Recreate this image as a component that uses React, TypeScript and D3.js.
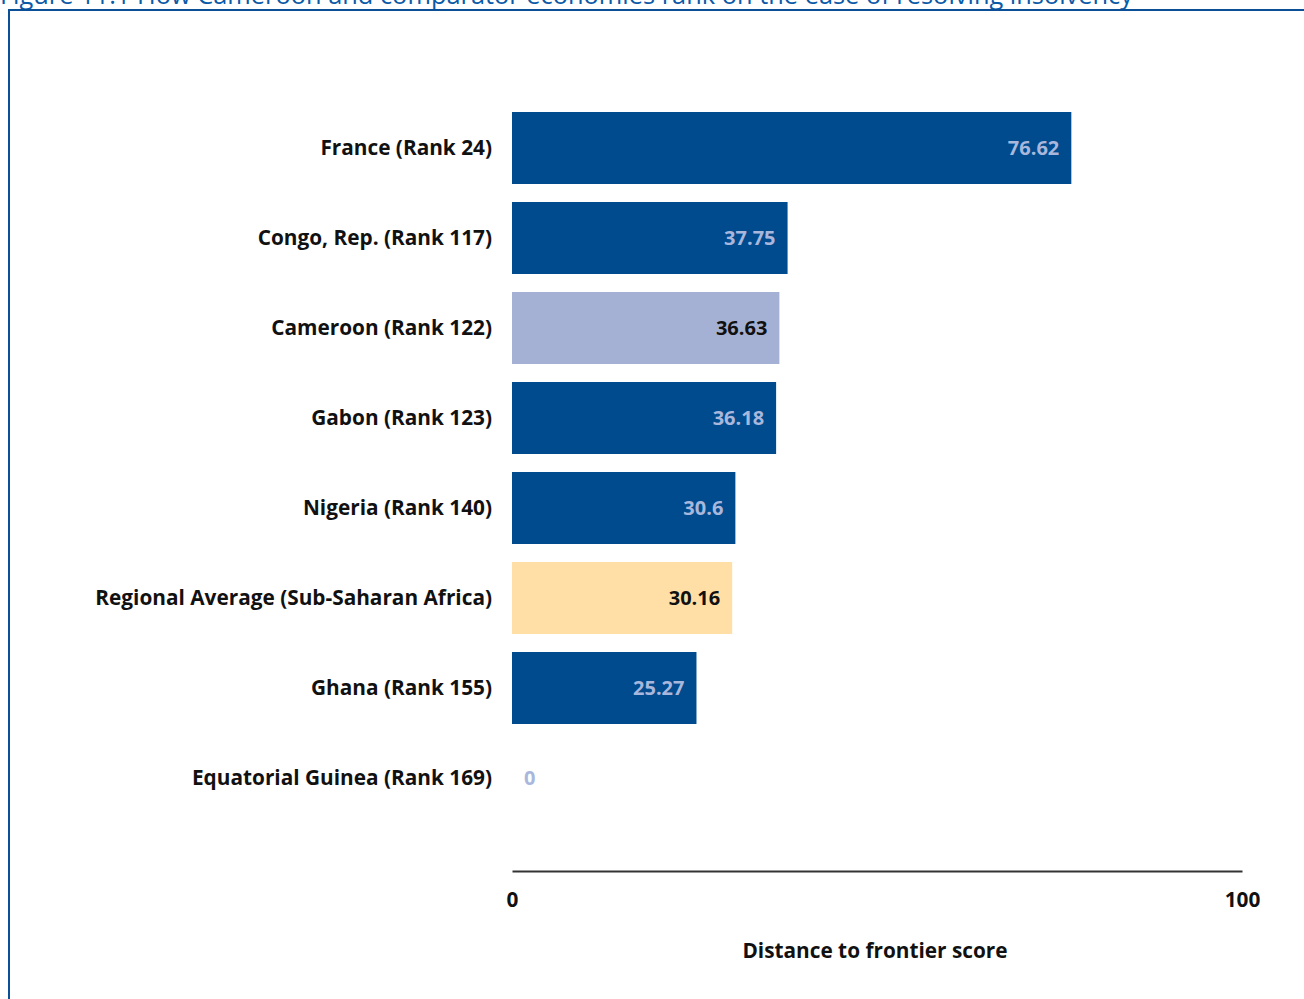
import * as d3 from 'd3';
import React, { useEffect, useRef } from 'react';

const categories = [
  'France (Rank 24)',
  'Congo, Rep. (Rank 117)',
  'Cameroon (Rank 122)',
  'Gabon (Rank 123)',
  'Nigeria (Rank 140)',
  'Regional Average (Sub-Saharan Africa)',
  'Ghana (Rank 155)',
  'Equatorial Guinea (Rank 169)',
];
const scores = [76.62, 37.75, 36.63, 36.18, 30.6, 30.16, 25.27, 0];
const kinds = ['other', 'other', 'focus', 'other', 'other', 'region', 'other', 'other'];
const xTicks = [0, 100];

const fill: Record<string, string> = { other: '#004b8d', focus: '#a5b1d4', region: '#ffdfa6' };
const labelFill: Record<string, string> = { other: '#a9b7dc', focus: '#111111', region: '#111111' };

const App: React.FC = () => {
  const svgRef = useRef<SVGSVGElement | null>(null);

  useEffect(() => {
    if (!svgRef.current) return;
    const W = 1304;
    const H = 999;
    const svg = d3.select(svgRef.current);
    svg.selectAll('*').remove();
    svg.attr('width', W).attr('height', H).attr('viewBox', `0 0 ${W} ${H}`);

    const font = '"Open Sans", sans-serif';
    const fs = '20.8px';

    // title, cut off at the top of the page
    svg.append('text')
      .attr('x', 0)
      .attr('y', 4)
      .attr('fill', '#0a5aa8')
      .style('font-family', font)
      .style('font-size', '25.4px')
      .text('Figure 11.1 How Cameroon and comparator economies rank on the ease of resolving insolvency');

    // frame
    svg.append('path')
      .attr('d', `M9,${H + 5} V10 H${W + 5}`)
      .attr('fill', 'none')
      .attr('stroke', '#0b4f96')
      .attr('stroke-width', 2);

    const x = d3.scaleLinear().domain([0, 100]).range([512, 1242]);
    const y = d3.scaleBand().domain(categories).range([94, 832]).padding(0.2);

    const rows = categories.map((c, i) => ({ c, v: scores[i], k: kinds[i] }));

    svg.append('g')
      .selectAll('rect')
      .data(rows)
      .enter()
      .append('rect')
      .attr('x', x(0))
      .attr('y', (d) => y(d.c)!)
      .attr('width', (d) => x(d.v) - x(0))
      .attr('height', y.bandwidth())
      .attr('fill', (d) => fill[d.k]);

    // category labels
    svg.append('g')
      .selectAll('text')
      .data(rows)
      .enter()
      .append('text')
      .attr('x', 492)
      .attr('y', (d) => y(d.c)! + y.bandwidth() / 2)
      .attr('dy', '0.35em')
      .attr('text-anchor', 'end')
      .attr('fill', '#111')
      .style('font-family', font)
      .style('font-weight', 700)
      .style('font-size', fs)
      .text((d) => d.c);

    // value labels
    svg.append('g')
      .selectAll('text')
      .data(rows)
      .enter()
      .append('text')
      .attr('x', (d) => (d.v > 0 ? x(d.v) - 12 : x(0) + 12))
      .attr('y', (d) => y(d.c)! + y.bandwidth() / 2)
      .attr('dy', '0.35em')
      .attr('text-anchor', (d) => (d.v > 0 ? 'end' : 'start'))
      .attr('fill', (d) => labelFill[d.k])
      .style('font-family', font)
      .style('font-weight', 700)
      .style('font-size', '20px')
      .text((d) => String(d.v));

    // x axis
    const axis = svg.append('g').attr('transform', 'translate(0,871)');
    axis.call(d3.axisBottom(x).tickValues(xTicks).tickSize(0).tickPadding(21).tickFormat(d3.format('d')));
    axis.select('.domain').attr('stroke', '#333').attr('stroke-width', 2);
    axis.selectAll('text')
      .attr('fill', '#111')
      .style('font-family', font)
      .style('font-weight', 700)
      .style('font-size', fs);

    svg.append('text')
      .attr('x', 875)
      .attr('y', 958)
      .attr('text-anchor', 'middle')
      .attr('fill', '#111')
      .style('font-family', font)
      .style('font-weight', 700)
      .style('font-size', fs)
      .text('Distance to frontier score');
  }, []);

  return <svg ref={svgRef} style={{ position: 'absolute', left: 0, top: 0 }} />;
};

export default App;
